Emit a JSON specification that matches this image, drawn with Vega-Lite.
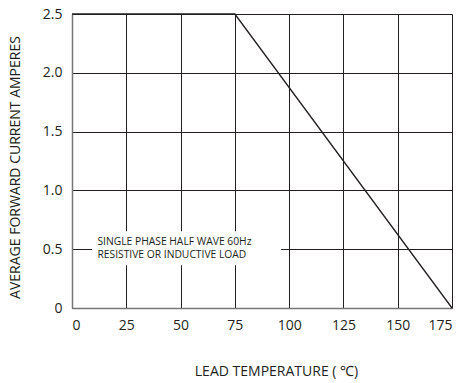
{
  "$schema": "https://vega.github.io/schema/vega-lite/v6.json",
  "width": 380,
  "height": 294,
  "autosize": {"type": "none"},
  "padding": {"left": 72, "top": 14, "right": 13, "bottom": 75},
  "background": "white",
  "config": {
    "view": {"stroke": null},
    "font": "Open Sans",
    "axis": {
      "labelFont": "Open Sans",
      "titleFont": "Open Sans",
      "labelFontSize": 14,
      "titleFontSize": 14,
      "labelColor": "#231f20",
      "titleColor": "#231f20",
      "titleFontWeight": "normal",
      "gridColor": "#231f20",
      "gridOpacity": 1,
      "gridWidth": 1,
      "domainColor": "#777777",
      "domainWidth": 1.5,
      "ticks": false
    }
  },
  "layer": [
    {
      "data": {"values": [
        {"temp": 0, "amps": 2.5},
        {"temp": 75, "amps": 2.5},
        {"temp": 175, "amps": 0}
      ]},
      "mark": {"type": "line", "color": "#231f20", "strokeWidth": 1.3},
      "encoding": {
        "x": {
          "field": "temp", "type": "quantitative",
          "scale": {"domain": [0, 175], "nice": false},
          "axis": {
            "values": [0, 25, 50, 75, 100, 125, 150, 175],
            "title": "LEAD TEMPERATURE ( ℃)",
            "labelPadding": 10,
            "titleX": 204,
            "titleY": 56,
            "titleAnchor": "middle",
            "titleAlign": "center"
          }
        },
        "y": {
          "field": "amps", "type": "quantitative",
          "scale": {"domain": [0, 2.5], "nice": false},
          "axis": {
            "values": [0, 0.5, 1, 1.5, 2, 2.5],
            "labelExpr": "datum.value == 0 ? '0' : format(datum.value, '.1f')",
            "title": "AVERAGE FORWARD CURRENT AMPERES",
            "labelPadding": 10,
            "titleX": -50,
            "titleY": 153,
            "titleAnchor": "middle",
            "titleAlign": "center"
          }
        }
      }
    },
    {
      "data": {"values": [{"x0": 9.2, "x1": 96.3, "y0": 0.364, "y1": 0.653}]},
      "mark": {"type": "rect", "fill": "white", "stroke": null},
      "encoding": {
        "x": {"field": "x0", "type": "quantitative"},
        "x2": {"field": "x1"},
        "y": {"field": "y0", "type": "quantitative"},
        "y2": {"field": "y1"}
      }
    },
    {
      "data": {"values": [
        {"tx": 11.7, "ty": 0.561, "label": "SINGLE PHASE HALF WAVE 60Hz"},
        {"tx": 11.7, "ty": 0.451, "label": "RESISTIVE OR INDUCTIVE LOAD"}
      ]},
      "mark": {"type": "text", "align": "left", "baseline": "middle", "fontSize": 10.3, "font": "Open Sans", "color": "#231f20"},
      "encoding": {
        "x": {"field": "tx", "type": "quantitative"},
        "y": {"field": "ty", "type": "quantitative"},
        "text": {"field": "label"}
      }
    }
  ]
}
